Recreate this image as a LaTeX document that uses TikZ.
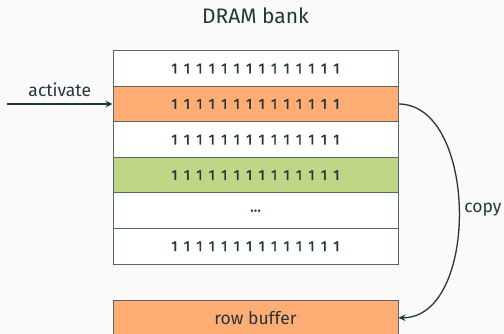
\documentclass[tikz,border=0pt]{standalone}
\usepackage{fontspec}
\setmainfont{Fira Sans}
\newfontfamily\onesfont[FakeBold=1.3]{Fira Sans}
\usetikzlibrary{arrows.meta}
\definecolor{bg}{HTML}{FAFAFA}
\definecolor{fg}{HTML}{23373B}
\definecolor{edge}{HTML}{56666A}
\definecolor{rowor}{HTML}{FFAD74}
\definecolor{rowgr}{HTML}{BED685}
\newcommand\onebox{\makebox[12.46pt][c]{1}}
\newcommand\onesrow{\onebox\onebox\onebox\onebox\onebox\onebox\onebox\onebox\onebox\onebox\onebox\onebox\onebox\onebox}
\tikzset{
  cell/.style={draw=edge, line width=0.9pt, minimum width=285pt, minimum height=35.55pt, inner sep=0pt, anchor=center, font=\onesfont\fontsize{14.5}{14.5}\selectfont, text=fg},
  lbl/.style={font=\fontsize{17.5}{17.5}\selectfont, text=fg, inner sep=0pt},
  conn/.style={draw=fg, line width=1.3pt, -{Stealth[length=7pt,width=6.5pt]}}
}
\begin{document}
\begin{tikzpicture}[x=1pt,y=1pt]
\fill[bg] (0,0) rectangle (504,334);
\useasboundingbox (0,0) rectangle (504,334);
\node[lbl, font=\fontsize{21}{21}\selectfont] (title) at (255.5,318) {DRAM bank};
\node[cell, fill=white] (r1) at (255.5,265.5) {\onesrow};
\node[cell, fill=rowor] (r2) at (255.5,230) {\onesrow};
\node[cell, fill=white] (r3) at (255.5,194.4) {\onesrow};
\node[cell, fill=rowgr] (r4) at (255.5,158.9) {\onesrow};
\node[cell, fill=white] (r5) at (255.5,123.3) {\dots};
\node[cell, fill=white] (r6) at (255.5,87.8) {\onesrow};
\node[cell, fill=rowor, font=\fontsize{17.5}{17.5}\selectfont] (buf) at (255.5,16.2) {row buffer};
\coordinate (src) at (7,230);
\draw[conn] (src) -- (r2.west) node[lbl, midway, above=7pt] (act) {activate};
\draw[conn] (r2.east) .. controls (478,230) and (480,16.2) .. (buf.east);
\node[lbl] (copy) at (483,124) {copy};
\end{tikzpicture}
\end{document}
